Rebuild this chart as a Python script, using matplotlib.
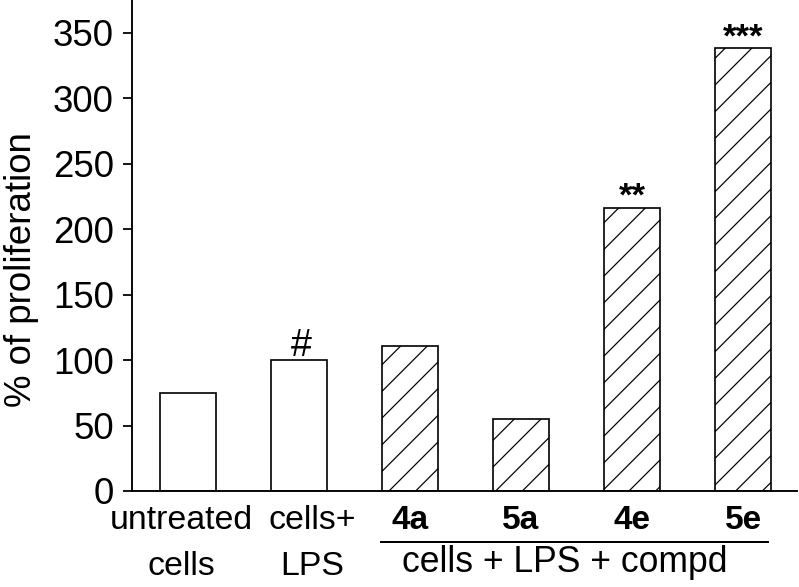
import matplotlib
matplotlib.use("Agg")
import matplotlib.pyplot as plt
import matplotlib.transforms as mtransforms

plt.rcParams['font.family'] = ['Liberation Sans', 'DejaVu Sans']
plt.rcParams['hatch.linewidth'] = 1.1

categories = ["untreated\ncells", "cells+\nLPS", "4a", "5a", "4e", "5e"]
values = [75, 100, 111, 55, 216, 338]
hatched = [False, False, True, True, True, True]
annotations = ["", "#", "", "", "**", "***"]
group_label = "cells + LPS + compd"
y_ticks = [0, 50, 100, 150, 200, 250, 300, 350]
y_label = "% of proliferation"

DPI = 80
fig = plt.figure(figsize=(799 / DPI, 587 / DPI), dpi=DPI)
ax = fig.add_axes([131.7 / 799, 96 / 587, (797 - 131.7) / 799, 491 / 587])

x = list(range(len(categories)))
for xi, v, h in zip(x, values, hatched):
    ax.bar(xi, v, width=0.5, facecolor="white", edgecolor="black",
           linewidth=1.5, hatch="/" if h else None, zorder=2)

for xi, v, a in zip(x, values, annotations):
    if not a:
        continue
    if a == "#":
        ax.annotate(a, (xi, v), xytext=(2, 4), textcoords="offset points",
                    ha="center", va="baseline", fontsize=34)
    else:
        ax.annotate(a, (xi, v), xytext=(0, 2), textcoords="offset points",
                    ha="center", va="baseline", fontsize=31, fontweight="bold")

ax.set_xlim(-0.507, 5.486)
ax.set_ylim(0, 375)
ax.set_yticks(y_ticks)
ax.set_yticklabels([str(t) for t in y_ticks], fontsize=33)
ax.tick_params(axis="y", direction="out", length=8, width=1.6, pad=8)
ax.set_xticks(x)
ax.set_xticklabels(categories, fontsize=30.5, linespacing=1.6)
ax.tick_params(axis="x", length=0, pad=13)
label_shift_px = [-7, 13, 0, 0, 0, 0]
for lbl, h, dx in zip(ax.get_xticklabels(), hatched, label_shift_px):
    if h:
        lbl.set_fontweight("bold")
        lbl.set_fontsize(30)
    lbl.set_transform(lbl.get_transform() +
                      mtransforms.ScaledTranslation(dx / DPI, 0, fig.dpi_scale_trans))

for s in ["top", "right"]:
    ax.spines[s].set_visible(False)
for s in ["left", "bottom"]:
    ax.spines[s].set_linewidth(1.7)

ax.set_ylabel(y_label, fontsize=33)
ax.yaxis.set_label_coords(-0.14, 0.45)

trans = mtransforms.blended_transform_factory(ax.transData, ax.transAxes)
first = hatched.index(True)
ax.plot([first - 0.264, len(categories) - 1 + 0.225], [-0.1033, -0.1033],
        transform=trans, color="black", linewidth=1.8, clip_on=False)
ax.text((first + len(categories) - 1) / 2 - 0.11, -0.11, group_label,
        transform=trans, ha="center", va="top", fontsize=32)

fig.savefig("out.png", dpi=DPI)
